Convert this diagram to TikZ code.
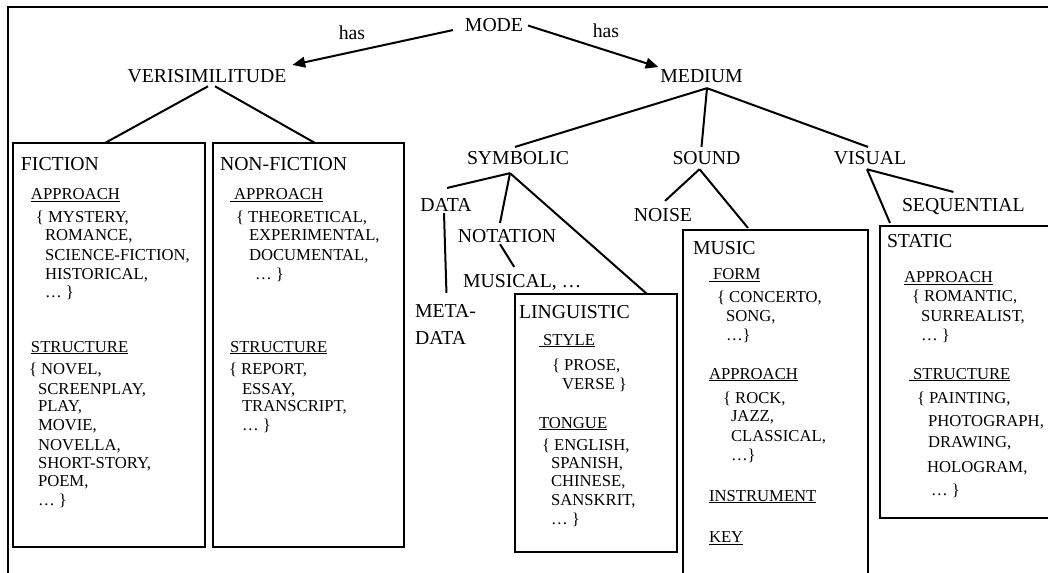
\documentclass[tikz,border=0pt]{standalone}
\usepackage{fontspec}
\setmainfont{Liberation Serif}
\usetikzlibrary{arrows.meta,calc}
\newcommand\ul[1]{\setbox0\hbox{#1}\rlap{\rule[-1.4pt]{\wd0}{0.7pt}}\box0}
\begin{document}
\begin{tikzpicture}[x=0.75pt,y=-0.75pt,
  lbl/.style={font=\fontsize{14.8}{17}\selectfont, inner sep=0pt, outer sep=0pt},
  ttl/.style={lbl, anchor=base west},
  itm/.style={font=\fontsize{12.5}{14}\selectfont, inner sep=0pt, outer sep=0pt, anchor=base west},
  box/.style={draw, line width=2pt, anchor=north west, inner sep=0pt, outer sep=0pt},
  con/.style={line width=1.5pt},
  arr/.style={con, -{Triangle[length=9.5pt,width=8pt]}}]
\useasboundingbox (0,0) rectangle (1048,573);
\clip (0,0) rectangle (1048,573);
% frame
\draw[line width=1.6pt] (8,600) -- (8,7) -- (1060,7);
% labels
\node[lbl, anchor=base] (mode) at (494,32) {MODE};
\node[lbl, anchor=base] (has1) at (352,40) {has};
\node[lbl, anchor=base] (has2) at (606,38) {has};
\node[lbl, anchor=base] (veri) at (207,83) {VERISIMILITUDE};
\node[lbl, anchor=base] (medium) at (701.5,83) {MEDIUM};
\node[lbl, anchor=base] (sym) at (518,165) {SYMBOLIC};
\node[lbl, anchor=base] (sound) at (706.5,165) {SOUND};
\node[lbl, anchor=base] (visual) at (870,165) {VISUAL};
\node[lbl, anchor=base] (data) at (446,212) {DATA};
\node[lbl, anchor=base] (notation) at (507,243) {NOTATION};
\node[lbl, anchor=base west] (musical) at (463,287) {MUSICAL, \dots};
\node[lbl, anchor=base west] (meta) at (415,317) {META-};
\node[lbl, anchor=base west] (meta2) at (415,344) {DATA};
\node[lbl, anchor=base] (noise) at (663,222) {NOISE};
\node[lbl, anchor=base west] (seq) at (902,212) {SEQUENTIAL};
% boxes
\node[box, minimum width=144pt, minimum height=303pt] (fic) at (13,143) {};
\node[box, minimum width=143.25pt, minimum height=303pt] (nonfic) at (213,143) {};
\node[box, minimum width=121.5pt, minimum height=193.5pt] (ling) at (515,294) {};
\node[box, minimum width=138.75pt, minimum height=277.5pt] (music) at (683,230) {};
\node[box, minimum width=135pt, minimum height=219pt] (static) at (880,226) {};
% titles
\node[ttl] (fict) at (21,170.5) {FICTION};
\node[ttl] (nfict) at (220,170.5) {NON-FICTION};
\node[ttl] (lingt) at (519,318) {LINGUISTIC};
\node[ttl] (musict) at (693,255) {MUSIC};
\node[ttl] (statict) at (887,247.3) {STATIC};
% fiction
\foreach \xx/\yy/\txt [count=\i] in {31/200/{\ul{APPROACH}}, 36/223/{\{ MYSTERY,}, 45/241/{ROMANCE,},
  45/260.7/{SCIENCE-FICTION,}, 45/280/{HISTORICAL,}, 45/298/{\dots\ \}},
  31/352.3/{\ul{STRUCTURE}}, 29/374.3/{\{ NOVEL,}, 38/394.3/{SCREENPLAY,}, 38/411.7/{PLAY,},
  38/430/{MOVIE,}, 38/450/{NOVELLA,}, 38/468/{SHORT-STORY,}, 38/486.7/{POEM,}, 38/505/{\dots\ \}}}
  \node[itm] (fi\i) at (\xx,\yy) {\txt};
% non-fiction
\foreach \xx/\yy/\txt [count=\i] in {230/200/{\ul{\ APPROACH}}, 236/223/{\{ THEORETICAL,}, 249/241/{EXPERIMENTAL,},
  249/260.7/{DOCUMENTAL,}, 255/280/{\dots\ \}},
  230/352.3/{\ul{STRUCTURE}}, 229/374.3/{\{ REPORT,}, 242/394.3/{ESSAY,}, 242/411.7/{TRANSCRIPT,},
  242/430/{\dots\ \}}}
  \node[itm] (nf\i) at (\xx,\yy) {\txt};
% linguistic
\foreach \xx/\yy/\txt [count=\i] in {539/345.5/{\ul{\ STYLE}}, 552/370/{\{ PROSE,}, 562/389/{VERSE \}},
  539/428/{\ul{TONGUE}}, 542/450.7/{\{ ENGLISH,}, 551/468.3/{SPANISH,}, 551/486.7/{CHINESE,},
  551/505.7/{SANSKRIT,}, 551/524/{\dots\ \}}}
  \node[itm] (li\i) at (\xx,\yy) {\txt};
% music
\foreach \xx/\yy/\txt [count=\i] in {709/280/{\ul{\ FORM}}, 717/302.3/{\{ CONCERTO,}, 726/321.7/{SONG,},
  726/340/{\dots\}}, 709/379.3/{\ul{APPROACH}}, 723/403.3/{\{ ROCK,}, 731/421.7/{JAZZ,},
  731/441/{CLASSICAL,}, 731/460/{\dots\}}, 709/501/{\ul{INSTRUMENT}}, 709/542.7/{\ul{KEY}}}
  \node[itm] (mu\i) at (\xx,\yy) {\txt};
% static
\foreach \xx/\yy/\txt [count=\i] in {904/282.7/{\ul{APPROACH}}, 912/301.7/{\{ ROMANTIC,}, 921/321.7/{SURREALIST,},
  921/340/{\dots\ \}}, 909/379.3/{\ul{\ STRUCTURE}}, 917/403.3/{\{ PAINTING,}, 928/426/{PHOTOGRAPH,},
  928/447.7/{DRAWING,}, 927/472.7/{HOLOGRAM,}, 931/495/{\dots\ \}}}
  \node[itm] (st\i) at (\xx,\yy) {\txt};
% connectors
\draw[arr] ($(mode.west)+(-12,4.5)$) -- ($(veri.north east)+(6,-5)$);
\draw[arr] ($(mode.east)+(5,0)$) -- ($(medium.north west)+(-2,-3)$);
\draw[con] ($(veri.south)+(1,3)$) -- ($(fic.north)+(-4,0)$);
\draw[con] ($(veri.south)+(8,3)$) -- ($(nonfic.north)+(6.5,0)$);
\draw[con] ($(medium.south)+(5.5,5)$) -- ($(sym.north)+(-3,-5)$);
\draw[con] ($(medium.south)+(5.5,5)$) -- ($(sound.north)+(-5,-5)$);
\draw[con] ($(medium.south)+(5.5,5)$) -- ($(visual.north)+(-2,-5)$);
\draw[con] ($(sym.south)+(-8,8)$) -- ($(data.north)+(1,-11)$);
\draw[con] ($(sym.south)+(-8,8)$) -- ($(notation.north)+(-7,-7)$);
\draw[con] ($(sym.south)+(-8,8)$) -- ($(ling.north east)+(-30,0)$);
\draw[con] ($(data.south)+(-2,1)$) -- ($(meta.north)+(1,-11)$);
\draw[con] ($(notation.south)+(-7,1)$) -- ($(musical.north)+(-8,-7)$);
\draw[con] ($(sound.south)+(-7,4)$) -- ($(noise.north)+(2,-8)$);
\draw[con] ($(sound.south)+(-7,4)$) -- ($(music.north west)+(65,-2)$);
\draw[con] ($(visual.south)+(-3,4)$) -- ($(seq.north)+(-10,-7)$);
\draw[con] ($(visual.south)+(-3,4)$) -- ($(static.north west)+(10,-3)$);
\end{tikzpicture}
\end{document}
